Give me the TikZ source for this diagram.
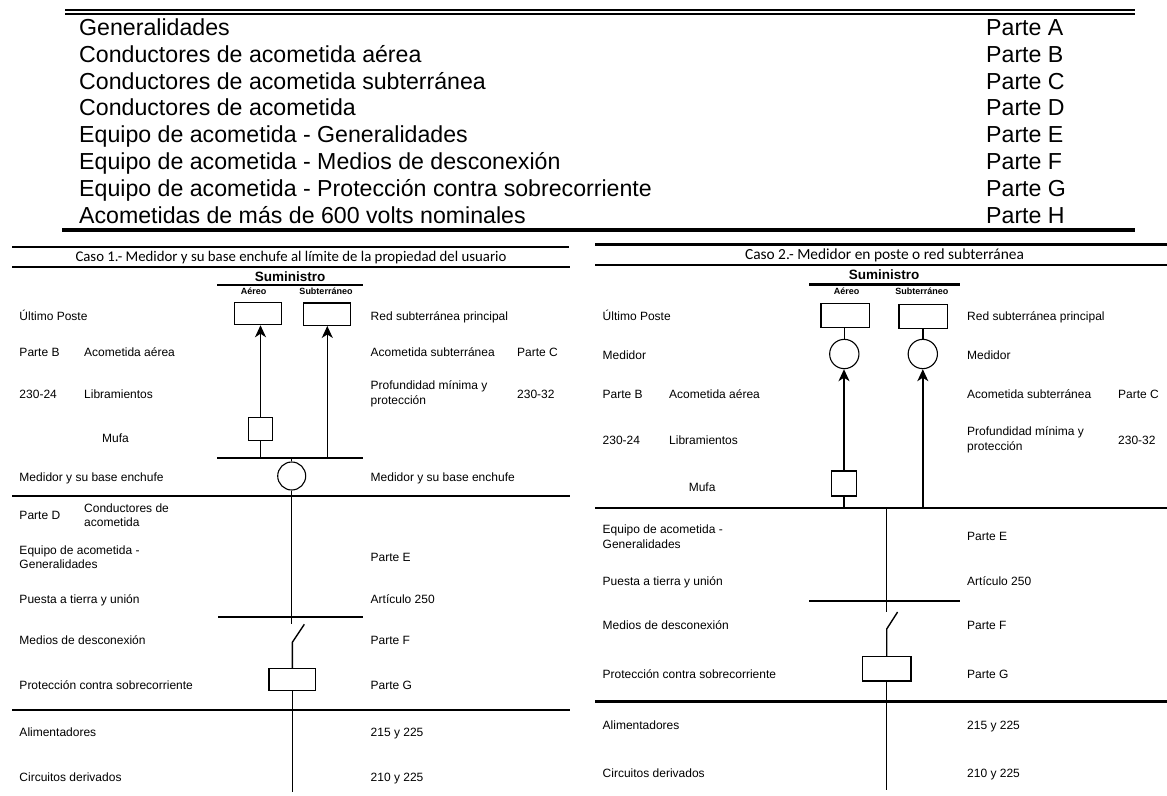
\documentclass[tikz,border=0pt]{standalone}
\usepackage{fontspec}
\setmainfont{Liberation Sans}
\newfontfamily\casofont{Carlito}
\usetikzlibrary{positioning,arrows.meta}
\tikzset{>={Stealth[length=12pt,width=11pt,inset=3.5pt]}}
\tikzstyle{every node}=[inner sep=0pt]
\tikzstyle{listtext}=[anchor=west,text height=18pt,text depth=2pt,font=\fontsize{23.15}{26}\selectfont]
\tikzstyle{lbl}=[anchor=west,text height=10pt,text depth=1.5pt,font=\fontsize{12}{14.5}\selectfont]
\tikzstyle{lbltwo}=[anchor=west,align=left,font=\fontsize{12}{14.5}\selectfont]
\tikzstyle{casotitle}=[font=\casofont\fontsize{14.8}{17}\selectfont]
\tikzstyle{casotitleb}=[font=\casofont\fontsize{15.4}{17}\selectfont]
\tikzstyle{sumtitle}=[font=\bfseries\fontsize{13.5}{16}\selectfont]
\tikzstyle{sumsub}=[font=\bfseries\fontsize{9}{11}\selectfont]
\tikzstyle{device}=[draw,rectangle,line width=1.1pt]
\tikzstyle{meter}=[draw,circle,line width=1.1pt,minimum size=28pt]
\tikzstyle{rule}=[line width=2pt]
\tikzstyle{wire}=[line width=1.4pt]

\begin{document}
\begin{tikzpicture}[x=1pt,y=-1pt]
	\useasboundingbox (0,0) rectangle (1167,795);

	% lista de partes
	\coordinate (topL) at (65,10);   \coordinate (topR) at (1135,10);
	\coordinate (topLb) at (65,13.5); \coordinate (topRb) at (1135,13.5);
	\coordinate (endL) at (62,230);  \coordinate (endR) at (1135,230);
	\draw[line width=1.3pt] (topL) -- (topR);
	\draw[line width=2pt] (topLb) -- (topRb);
	\draw[line width=4pt] (endL) -- (endR);
	\node[listtext] (gen) at (79,27) {Generalidades};
	\node[listtext] (aerea) at (79,54.5) {Conductores de acometida aérea};
	\node[listtext] (subt) at (79,81) {Conductores de acometida subterránea};
	\node[listtext] (cond) at (79,107.5) {Conductores de acometida};
	\node[listtext] (equipo) at (79,134.5) {Equipo de acometida - Generalidades};
	\node[listtext] (medios) at (79,161) {Equipo de acometida - Medios de desconexión};
	\node[listtext] (prot) at (79,188) {Equipo de acometida - Protección contra sobrecorriente};
	\node[listtext] (mas) at (79,215) {Acometidas de más de 600 volts nominales};
	\node[listtext] (pa) at (986,27) {Parte A};
	\node[listtext] (pb) at (986,54.5) {Parte B};
	\node[listtext] (pc) at (986,81) {Parte C};
	\node[listtext] (pd) at (986,107.5) {Parte D};
	\node[listtext] (pe) at (986,134.5) {Parte E};
	\node[listtext] (pf) at (986,161) {Parte F};
	\node[listtext] (pg) at (986,188) {Parte G};
	\node[listtext] (ph) at (986,215) {Parte H};

	% caso 1
	\coordinate (a1) at (12,247);   \coordinate (a2) at (569,247);
	\coordinate (b1) at (12,267);   \coordinate (b2) at (570,267);
	\coordinate (c1) at (217,284.7); \coordinate (c2) at (363,284.7);
	\coordinate (d1) at (217,458);  \coordinate (d2) at (363,458);
	\coordinate (e1) at (12,496);   \coordinate (e2) at (570,496);
	\coordinate (f1) at (218,617);  \coordinate (f2) at (363,617);
	\coordinate (g1) at (12,710);   \coordinate (g2) at (570,710);
	\foreach \r in {a,b,c,d,e,f,g} \draw[rule] (\r1) -- (\r2);

	\node[casotitle] (caso1) at (291,258) {Caso 1.- Medidor y su base enchufe al límite de la propiedad del usuario};
	\node[sumtitle] (sum1) at (290,277) {Suministro};
	\node[sumsub] (aer1) at (253.7,291) {Aéreo};
	\node[sumsub] (sub1) at (326,291) {Subterráneo};
	\node[device,minimum width=47pt,minimum height=22.4pt] (poste1) at (257.8,313.5) {};
	\node[device,minimum width=47pt,minimum height=22.4pt] (red1) at (327.3,314.2) {};
	\node[device,minimum width=23.6pt,minimum height=23pt] (mufa1) at (260.5,428.8) {};
	\node[meter] (med1) at (291.7,476) {};
	\node[device,minimum width=46.7pt,minimum height=22.4pt] (pro1) at (292.3,679.5) {};
	\coordinate (sw1) at (291.7,624);
	\coordinate (sw2) at (292.3,642.3);
	\coordinate (sw3) at (304.3,624.3);
	\coordinate (fin1) at (292.3,791.5);

	\draw[wire,->] (mufa1.north) -- (mufa1.north |- poste1.south);
	\draw[wire] (mufa1.south) -- (mufa1.south |- d1);
	\draw[wire,->] (red1.south |- d1) -- (red1.south);
	\draw[wire] (med1.north |- d1) -- (med1.north);
	\draw[wire] (med1.south) -- (sw1);
	\draw[wire] (sw3) -- (sw2) -- (pro1.north);
	\draw[wire] (pro1.south) -- (fin1);

	\node[lbl] (ult1) at (19.3,316) {Último Poste};
	\node[lbl] (parb1) at (19.3,352) {Parte B};
	\node[lbl] (aco1) at (84,352) {Acometida aérea};
	\node[lbl] (art1) at (19.3,394) {230-24};
	\node[lbl] (lib1) at (84,394) {Libramientos};
	\node[lbl] (muf1) at (102,438) {Mufa};
	\node[lbl] (base1) at (19.3,477) {Medidor y su base enchufe};
	\node[lbl] (pard1) at (19.3,515) {Parte D};
	\node[lbltwo] (con1) at (84,515) {Conductores de\\acometida};
	\node[lbltwo] (equ1) at (19.3,557) {Equipo de acometida -\\Generalidades};
	\node[lbl] (pue1) at (19.3,599) {Puesta a tierra y unión};
	\node[lbl] (des1) at (19.3,640) {Medios de desconexión};
	\node[lbl] (sob1) at (19.3,685) {Protección contra sobrecorriente};
	\node[lbl] (ali1) at (19.3,732) {Alimentadores};
	\node[lbl] (cir1) at (19.3,777) {Circuitos derivados};
	\node[lbl] (rsp1) at (370.5,316) {Red subterránea principal};
	\node[lbl] (asu1) at (370.5,352) {Acometida subterránea};
	\node[lbl] (parc1) at (517,352) {Parte C};
	\node[lbltwo] (pmi1) at (370.5,394) {Profundidad mínima y\\protección};
	\node[lbl] (art32a) at (517,394) {230-32};
	\node[lbl] (bas1) at (370.5,477) {Medidor y su base enchufe};
	\node[lbl] (pare1) at (370.5,557) {Parte E};
	\node[lbl] (a2501) at (370.5,599) {Artículo 250};
	\node[lbl] (parf1) at (370.5,640) {Parte F};
	\node[lbl] (parg1) at (370.5,685) {Parte G};
	\node[lbl] (n2151) at (370.5,732) {215 y 225};
	\node[lbl] (n2101) at (370.5,777) {210 y 225};

	% caso 2
	\coordinate (h1) at (595,244.5);  \coordinate (h2) at (1167,244.5);
	\coordinate (i1) at (595,265);  \coordinate (i2) at (1167,265);
	\coordinate (j1) at (809,284.3);  \coordinate (j2) at (960,284.3);
	\coordinate (k1) at (595,508);  \coordinate (k2) at (1167,508);
	\coordinate (l1) at (809,601);  \coordinate (l2) at (960,601);
	\coordinate (m1) at (595,701.5); \coordinate (m2) at (1167,701.5);
	\foreach \r in {h,i,j,k,l,m} \draw[line width=2.8pt] (\r1) -- (\r2);

	\node[casotitleb] (caso2) at (884.5,255) {Caso 2.- Medidor en poste o red subterránea};
	\node[sumtitle] (sum2) at (884,275) {Suministro};
	\node[sumsub] (aer2) at (846.7,291.7) {Aéreo};
	\node[sumsub] (sub2) at (921.8,291.7) {Subterráneo};
	\node[device,minimum width=48.7pt,minimum height=24pt] (poste2) at (845.3,315.7) {};
	\node[device,minimum width=48.7pt,minimum height=24pt] (red2) at (923.3,316.7) {};
	\node[meter,minimum size=29.3pt] (meda2) at (844.3,354) {};
	\node[meter,minimum size=29.3pt] (medb2) at (922.8,354) {};
	\node[device,minimum width=25pt,minimum height=25pt] (mufa2) at (844,483.5) {};
	\node[device,minimum width=48.6pt,minimum height=24.3pt] (pro2) at (886.7,668.8) {};
	\coordinate (top2) at (886.7,508);
	\coordinate (sw4) at (886.7,611.7);
	\coordinate (sw5) at (886.7,629);
	\coordinate (sw6) at (897.6,612);
	\coordinate (fin2) at (886.7,790);

	\draw[wire] (poste2.south -| meda2) -- (meda2.north);
	\draw[wire] (red2.south -| medb2) -- (medb2.north);
	\draw[wire,->] (mufa2.north) -- (meda2.south -| mufa2.north);
	\draw[wire] (mufa2.south) -- (mufa2.south |- k1);
	\draw[wire,->] (medb2.south |- k1) -- (medb2.south);
	\draw[wire] (top2) -- (sw4);
	\draw[wire] (sw6) -- (sw5) -- (pro2.north);
	\draw[wire] (pro2.south) -- (fin2);

	\node[lbl] (ult2) at (602.5,316.7) {Último Poste};
	\node[lbl] (med2) at (602.5,355.7) {Medidor};
	\node[lbl] (parb2) at (602.5,394.7) {Parte B};
	\node[lbl] (aco2) at (669,394.7) {Acometida aérea};
	\node[lbl] (art2) at (602.5,440) {230-24};
	\node[lbl] (lib2) at (669,440) {Libramientos};
	\node[lbl] (muf2) at (688.6,487.7) {Mufa};
	\node[lbltwo] (equ2) at (602.5,536.7) {Equipo de acometida -\\Generalidades};
	\node[lbl] (pue2) at (602.5,581.7) {Puesta a tierra y unión};
	\node[lbl] (des2) at (602.5,625.7) {Medios de desconexión};
	\node[lbl] (sob2) at (602.5,674.7) {Protección contra sobrecorriente};
	\node[lbl] (ali2) at (602.5,725.7) {Alimentadores};
	\node[lbl] (cir2) at (602.5,773.7) {Circuitos derivados};
	\node[lbl] (rsp2) at (967,316.7) {Red subterránea principal};
	\node[lbl] (mdr2) at (967,355.7) {Medidor};
	\node[lbl] (asu2) at (967,394.7) {Acometida subterránea};
	\node[lbl] (parc2) at (1118,394.7) {Parte C};
	\node[lbltwo] (pmi2) at (967,440) {Profundidad mínima y\\protección};
	\node[lbl] (art32b) at (1118,440) {230-32};
	\node[lbl] (pare2) at (967,536.7) {Parte E};
	\node[lbl] (a2502) at (967,581.7) {Artículo 250};
	\node[lbl] (parf2) at (967,625.7) {Parte F};
	\node[lbl] (parg2) at (967,674.7) {Parte G};
	\node[lbl] (n2152) at (967,725.7) {215 y 225};
	\node[lbl] (n2102) at (967,773.7) {210 y 225};
\end{tikzpicture}
\end{document}
